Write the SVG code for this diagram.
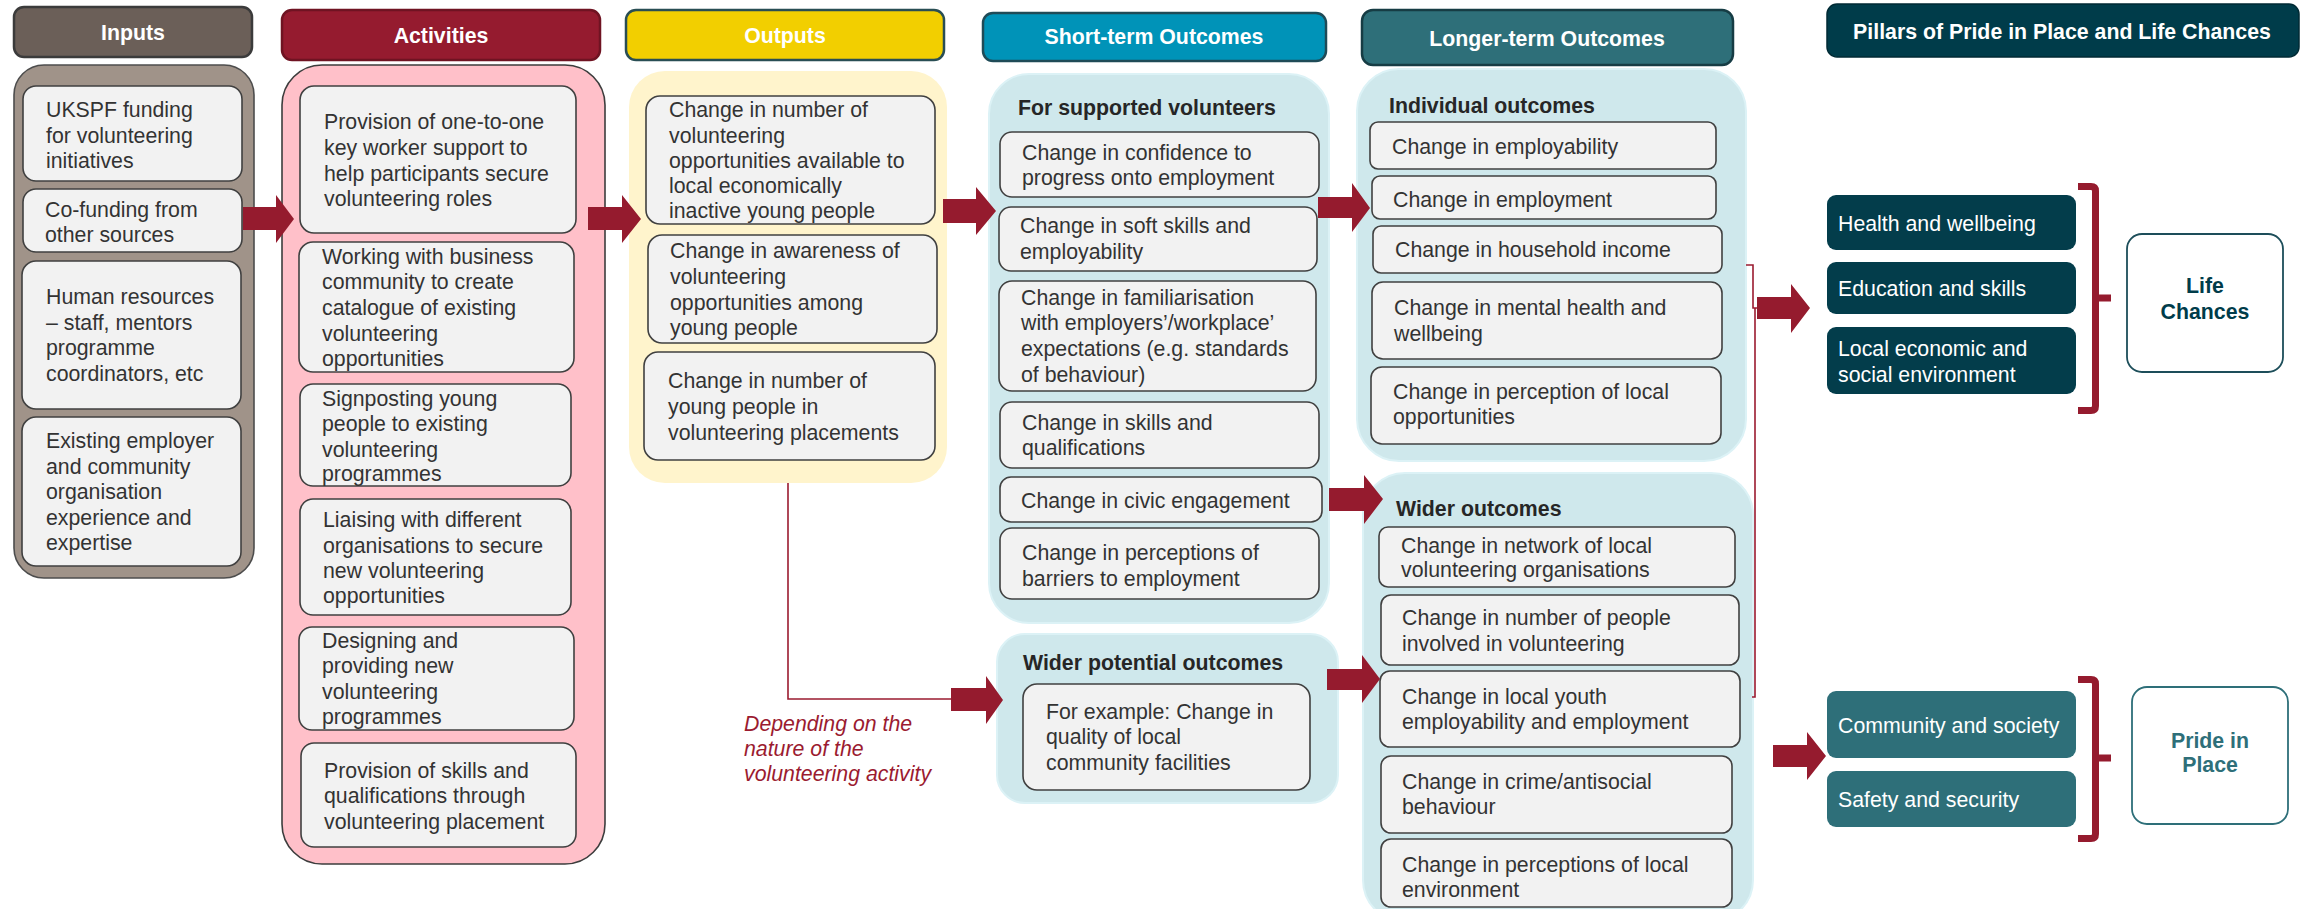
<svg xmlns="http://www.w3.org/2000/svg" width="2310" height="909" viewBox="0 0 2310 909">
<style>
text{font-family:"Liberation Sans",Arial,sans-serif;font-size:21.3px}
.t{fill:#333}
.b{font-weight:bold;fill:#262626}
.hd{font-weight:bold;fill:#fff;text-anchor:middle}
.wt{fill:#fff}
.box{fill:#f2f2f2;stroke:#404040;stroke-width:1.6}
.hdr{stroke-width:2.5}
.lb{fill:#cfe8ec;stroke:#dcf2f6;stroke-width:2}
.arr{fill:#951b2e}
.ln{fill:none;stroke:#9b1b30;stroke-width:1.6}
.br{fill:none;stroke:#951b2e;stroke-width:7}
.it{font-style:italic;fill:#9b1b30}
</style>
<g id="col-inputs">
<rect x="14" y="7" width="238" height="50" rx="10" fill="#6b5f58" stroke="#3b3b3b" class="hdr"/>
<text class="hd" x="133" y="40">Inputs</text>
<rect x="14" y="65" width="240" height="513" rx="30" fill="#a09389" stroke="#4d4d4d" stroke-width="1.6"/>
</g>
<g id="in1"><rect class="box" x="23" y="86" width="219" height="95" rx="13"/><text class="t"><tspan x="46" y="117">UKSPF funding</tspan><tspan x="46" y="143">for volunteering</tspan><tspan x="46" y="168">initiatives</tspan></text></g>
<g id="in2"><rect class="box" x="23" y="189" width="219" height="63" rx="13"/><text class="t"><tspan x="45" y="217">Co-funding from</tspan><tspan x="45" y="242">other sources</tspan></text></g>
<g id="in3"><rect class="box" x="22" y="261" width="219" height="148" rx="14"/><text class="t"><tspan x="46" y="304">Human resources</tspan><tspan x="46" y="330">– staff, mentors</tspan><tspan x="46" y="355">programme</tspan><tspan x="46" y="381">coordinators, etc</tspan></text></g>
<g id="in4"><rect class="box" x="22" y="417" width="219" height="149" rx="14"/><text class="t"><tspan x="46" y="448">Existing employer</tspan><tspan x="46" y="474">and community</tspan><tspan x="46" y="499">organisation</tspan><tspan x="46" y="525">experience and</tspan><tspan x="46" y="550">expertise</tspan></text></g>

<g id="col-activities">
<rect x="282" y="10" width="318" height="50" rx="10" fill="#951b2f" stroke="#6f1322" class="hdr"/>
<text class="hd" x="441" y="43">Activities</text>
<rect x="282" y="65" width="323" height="799" rx="40" fill="#ffc0c9" stroke="#3d3d3d" stroke-width="1.6"/>
</g>
<g id="ac1"><rect class="box" x="300" y="86" width="276" height="147" rx="14"/><text class="t"><tspan x="324" y="129">Provision of one-to-one</tspan><tspan x="324" y="155">key worker support to</tspan><tspan x="324" y="181">help participants secure</tspan><tspan x="324" y="206">volunteering roles</tspan></text></g>
<g id="ac2"><rect class="box" x="299" y="242" width="275" height="130" rx="14"/><text class="t"><tspan x="322" y="264">Working with business</tspan><tspan x="322" y="289">community to create</tspan><tspan x="322" y="315">catalogue of existing</tspan><tspan x="322" y="341">volunteering</tspan><tspan x="322" y="366">opportunities</tspan></text></g>
<g id="ac3"><rect class="box" x="300" y="384" width="271" height="102" rx="13"/><text class="t"><tspan x="322" y="406">Signposting young</tspan><tspan x="322" y="431">people to existing</tspan><tspan x="322" y="457">volunteering</tspan><tspan x="322" y="481">programmes</tspan></text></g>
<g id="ac4"><rect class="box" x="300" y="499" width="271" height="116" rx="13"/><text class="t"><tspan x="323" y="527">Liaising with different</tspan><tspan x="323" y="553">organisations to secure</tspan><tspan x="323" y="578">new volunteering</tspan><tspan x="323" y="603">opportunities</tspan></text></g>
<g id="ac5"><rect class="box" x="299" y="627" width="275" height="103" rx="13"/><text class="t"><tspan x="322" y="648">Designing and</tspan><tspan x="322" y="673">providing new</tspan><tspan x="322" y="699">volunteering</tspan><tspan x="322" y="724">programmes</tspan></text></g>
<g id="ac6"><rect class="box" x="301" y="743" width="275" height="104" rx="13"/><text class="t"><tspan x="324" y="778">Provision of skills and</tspan><tspan x="324" y="803">qualifications through</tspan><tspan x="324" y="829">volunteering placement</tspan></text></g>

<g id="col-outputs">
<rect x="626" y="10" width="318" height="50" rx="10" fill="#f2cf00" stroke="#294e54" class="hdr"/>
<text class="hd" x="785" y="43">Outputs</text>
<rect x="629" y="71" width="318" height="412" rx="36" fill="#fff4cc"/>
</g>
<g id="ou1"><rect class="box" x="646" y="96" width="289" height="128" rx="14"/><text class="t"><tspan x="669" y="117">Change in number of</tspan><tspan x="669" y="143">volunteering</tspan><tspan x="669" y="168">opportunities available to</tspan><tspan x="669" y="193">local economically</tspan><tspan x="669" y="218">inactive young people</tspan></text></g>
<g id="ou2"><rect class="box" x="648" y="235" width="289" height="108" rx="14"/><text class="t"><tspan x="670" y="258">Change in awareness of</tspan><tspan x="670" y="284">volunteering</tspan><tspan x="670" y="310">opportunities among</tspan><tspan x="670" y="335">young people</tspan></text></g>
<g id="ou3"><rect class="box" x="644" y="352" width="291" height="108" rx="14"/><text class="t"><tspan x="668" y="388">Change in number of</tspan><tspan x="668" y="414">young people in</tspan><tspan x="668" y="440">volunteering placements</tspan></text></g>

<g id="col-short">
<rect x="983" y="13" width="343" height="48" rx="10" fill="#0093b8" stroke="#1f4b57" class="hdr"/>
<text class="hd" x="1154" y="44">Short-term Outcomes</text>
<rect class="lb" x="989" y="74" width="340" height="549" rx="40"/>
<text class="b" x="1018" y="115">For supported volunteers</text>
</g>
<g id="st1"><rect class="box" x="1000" y="132" width="319" height="65" rx="12"/><text class="t"><tspan x="1022" y="160">Change in confidence to</tspan><tspan x="1022" y="185">progress onto employment</tspan></text></g>
<g id="st2"><rect class="box" x="999" y="207" width="318" height="64" rx="12"/><text class="t"><tspan x="1020" y="233">Change in soft skills and</tspan><tspan x="1020" y="259">employability</tspan></text></g>
<g id="st3"><rect class="box" x="999" y="281" width="317" height="110" rx="13"/><text class="t"><tspan x="1021" y="305">Change in familiarisation</tspan><tspan x="1021" y="330">with employers’/workplace’</tspan><tspan x="1021" y="356">expectations (e.g. standards</tspan><tspan x="1021" y="382">of behaviour)</tspan></text></g>
<g id="st4"><rect class="box" x="1000" y="402" width="319" height="66" rx="12"/><text class="t"><tspan x="1022" y="430">Change in skills and</tspan><tspan x="1022" y="455">qualifications</tspan></text></g>
<g id="st5"><rect class="box" x="1000" y="477" width="322" height="45" rx="11"/><text class="t" x="1021" y="508">Change in civic engagement</text></g>
<g id="st6"><rect class="box" x="1000" y="528" width="319" height="71" rx="12"/><text class="t"><tspan x="1022" y="560">Change in perceptions of</tspan><tspan x="1022" y="586">barriers to employment</tspan></text></g>

<g id="col-widerpotential">
<rect class="lb" x="997" y="634" width="341" height="169" rx="28"/>
<text class="b" x="1023" y="670">Wider potential outcomes</text>
</g>
<g id="wp1"><rect class="box" x="1023" y="684" width="287" height="106" rx="14"/><text class="t"><tspan x="1046" y="719">For example: Change in</tspan><tspan x="1046" y="744">quality of local</tspan><tspan x="1046" y="770">community facilities</tspan></text></g>

<g id="col-longer">
<rect x="1362" y="10" width="371" height="55" rx="11" fill="#2e6f79" stroke="#163c44" class="hdr"/>
<text class="hd" x="1547" y="46">Longer-term Outcomes</text>
<rect class="lb" x="1357" y="69" width="389" height="392" rx="42"/>
<text class="b" x="1389" y="113">Individual outcomes</text>
</g>
<g id="lt1"><rect class="box" x="1370" y="122" width="346" height="47" rx="8"/><text class="t" x="1392" y="154">Change in employability</text></g>
<g id="lt2"><rect class="box" x="1372" y="176" width="344" height="43" rx="8"/><text class="t" x="1393" y="207">Change in employment</text></g>
<g id="lt3"><rect class="box" x="1373" y="226" width="349" height="47" rx="8"/><text class="t" x="1395" y="257">Change in household income</text></g>
<g id="lt4"><rect class="box" x="1372" y="282" width="350" height="77" rx="11"/><text class="t"><tspan x="1394" y="315">Change in mental health and</tspan><tspan x="1394" y="341">wellbeing</tspan></text></g>
<g id="lt5"><rect class="box" x="1371" y="367" width="350" height="77" rx="11"/><text class="t"><tspan x="1393" y="399">Change in perception of local</tspan><tspan x="1393" y="424">opportunities</tspan></text></g>

<g id="col-wider">
<rect class="lb" x="1363" y="473" width="390" height="449" rx="42"/>
<text class="b" x="1396" y="516">Wider outcomes</text>
</g>
<g id="wo1"><rect class="box" x="1379" y="527" width="356" height="60" rx="9"/><text class="t"><tspan x="1401" y="553">Change in network of local</tspan><tspan x="1401" y="577">volunteering organisations</tspan></text></g>
<g id="wo2"><rect class="box" x="1381" y="595" width="358" height="70" rx="10"/><text class="t"><tspan x="1402" y="625">Change in number of people</tspan><tspan x="1402" y="651">involved in volunteering</tspan></text></g>
<g id="wo3"><rect class="box" x="1380" y="671" width="360" height="76" rx="10"/><text class="t"><tspan x="1402" y="704">Change in local youth</tspan><tspan x="1402" y="729">employability and employment</tspan></text></g>
<g id="wo4"><rect class="box" x="1381" y="756" width="351" height="77" rx="10"/><text class="t"><tspan x="1402" y="789">Change in crime/antisocial</tspan><tspan x="1402" y="814">behaviour</tspan></text></g>
<g id="wo5"><rect class="box" x="1381" y="839" width="351" height="68" rx="10"/><text class="t"><tspan x="1402" y="872">Change in perceptions of local</tspan><tspan x="1402" y="897">environment</tspan></text></g>

<g id="col-pillars">
<rect x="1827" y="4" width="472" height="53" rx="10" fill="#003c4a" stroke="#002a34" stroke-width="1.5"/>
<text class="hd" x="2062" y="39">Pillars of Pride in Place and Life Chances</text>
</g>
<g id="p-health"><rect x="1827" y="195" width="249" height="55" rx="9" fill="#033d4b"/><text class="wt" x="1838" y="231">Health and wellbeing</text></g>
<g id="p-edu"><rect x="1827" y="262" width="249" height="52" rx="9" fill="#033d4b"/><text class="wt" x="1838" y="296">Education and skills</text></g>
<g id="p-local"><rect x="1827" y="327" width="249" height="67" rx="9" fill="#033d4b"/><text class="wt"><tspan x="1838" y="356">Local economic and</tspan><tspan x="1838" y="382">social environment</tspan></text></g>
<g id="p-community"><rect x="1827" y="691" width="249" height="67" rx="9" fill="#2e6f79"/><text class="wt" x="1838" y="733">Community and society</text></g>
<g id="p-safety"><rect x="1827" y="771" width="249" height="56" rx="9" fill="#2e6f79"/><text class="wt" x="1838" y="807">Safety and security</text></g>
<g id="life-chances"><rect x="2127" y="234" width="156" height="138" rx="15" fill="#fff" stroke="#1d4e5a" stroke-width="1.8"/><text class="hd" style="fill:#003c4a"><tspan x="2205" y="293">Life</tspan><tspan x="2205" y="319">Chances</tspan></text></g>
<g id="pride-in-place"><rect x="2132" y="687" width="156" height="137" rx="15" fill="#fff" stroke="#2e6f79" stroke-width="1.8"/><text class="hd" style="fill:#2e6f79"><tspan x="2210" y="748">Pride in</tspan><tspan x="2210" y="772">Place</tspan></text></g>

<g id="connectors">
<polygon class="arr" points="243,207 276,207 276,195 294,219 276,243 276,230 243,230"/>
<polygon class="arr" points="588,207 622,207 622,195 641,219 622,243 622,230 588,230"/>
<polygon class="arr" points="943,199 976,199 976,187 996,211 976,235 976,223 943,223"/>
<polygon class="arr" points="1318,197 1352,197 1352,183 1370,208 1352,232 1352,218 1318,218"/>
<polygon class="arr" points="1329,488 1364,488 1364,475 1383,499 1364,524 1364,511 1329,511"/>
<polygon class="arr" points="1327,669 1362,669 1362,655 1380,679 1362,703 1362,690 1327,690"/>
<polyline class="ln" points="788,483 788,699 952,699"/>
<polygon class="arr" points="951,688 986,688 986,676 1003,700 986,724 986,711 951,711"/>
<text class="it"><tspan x="744" y="731">Depending on the</tspan><tspan x="744" y="756">nature of the</tspan><tspan x="744" y="781">volunteering activity</tspan></text>
<polyline class="ln" points="1746,265 1753,265 1753,308 1758,308"/>
<polyline class="ln" points="1752,697 1755,697 1755,308"/>
<polygon class="arr" points="1757,297 1791,297 1791,284 1810,308 1791,333 1791,319 1757,319"/>
<polygon class="arr" points="1773,745 1807,745 1807,732 1826,756 1807,780 1807,767 1773,767"/>
<path class="br" d="M2078,186.5 H2091 Q2095.5,186.5 2095.5,191 V406 Q2095.5,410.5 2091,410.5 H2078 M2095.5,298 H2111"/>
<path class="br" d="M2078,679.5 H2091 Q2095.5,679.5 2095.5,684 V834 Q2095.5,838.5 2091,838.5 H2078 M2095.5,758 H2111"/>
</g>
</svg>
